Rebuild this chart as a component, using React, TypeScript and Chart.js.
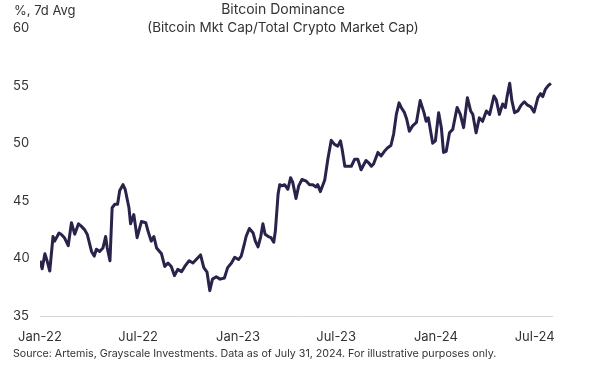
import React, { useEffect, useRef } from "react";
import { Chart, registerables } from "chart.js";

Chart.register(...registerables);

// ---- Data ----
const dates: string[] = [
  "2022-01-01","2022-01-05","2022-01-10","2022-01-14","2022-01-19","2022-01-25","2022-01-28",
  "2022-02-05","2022-02-09","2022-02-15","2022-02-22","2022-02-28",
  "2022-03-06","2022-03-13","2022-03-18","2022-03-24","2022-03-29",
  "2022-04-06","2022-04-11","2022-04-15","2022-04-21","2022-04-27",
  "2022-05-02","2022-05-05","2022-05-10","2022-05-14","2022-05-19","2022-05-24","2022-05-28",
  "2022-06-03","2022-06-07","2022-06-14","2022-06-17","2022-06-23","2022-06-29",
  "2022-07-07","2022-07-15","2022-07-19","2022-07-25","2022-07-30",
  "2022-08-04","2022-08-13","2022-08-19","2022-08-25","2022-08-31",
  "2022-09-06","2022-09-12","2022-09-19","2022-09-25",
  "2022-10-03","2022-10-10","2022-10-16","2022-10-24","2022-10-30",
  "2022-11-05","2022-11-10","2022-11-15","2022-11-22","2022-11-29",
  "2022-12-07","2022-12-13","2022-12-20","2022-12-26",
  "2023-01-02","2023-01-07","2023-01-12","2023-01-16","2023-01-22","2023-01-29",
  "2023-02-02","2023-02-07","2023-02-12","2023-02-16","2023-02-20","2023-02-26",
  "2023-03-03","2023-03-08","2023-03-11","2023-03-16","2023-03-19","2023-03-23","2023-03-28",
  "2023-04-03","2023-04-08","2023-04-12","2023-04-18","2023-04-23","2023-04-29",
  "2023-05-07","2023-05-13","2023-05-19","2023-05-25","2023-05-28",
  "2023-06-02","2023-06-10","2023-06-16","2023-06-22","2023-06-28",
  "2023-07-04","2023-07-09","2023-07-12","2023-07-17","2023-07-23","2023-07-29",
  "2023-08-04","2023-08-10","2023-08-16","2023-08-25","2023-08-30",
  "2023-09-04","2023-09-08","2023-09-16","2023-09-22","2023-09-28",
  "2023-10-04","2023-10-10","2023-10-15","2023-10-20","2023-10-25","2023-10-29",
  "2023-11-04","2023-11-08","2023-11-13","2023-11-19","2023-11-26",
  "2023-12-03","2023-12-10","2023-12-14","2023-12-18","2023-12-26","2023-12-31",
  "2024-01-06","2024-01-11","2024-01-15","2024-01-20","2024-01-26",
  "2024-02-01","2024-02-09","2024-02-15","2024-02-21","2024-02-28",
  "2024-03-05","2024-03-09","2024-03-15","2024-03-21","2024-03-27",
  "2024-04-03","2024-04-09","2024-04-17","2024-04-21","2024-04-27",
  "2024-05-03","2024-05-08","2024-05-11","2024-05-16","2024-05-20","2024-05-25","2024-05-31",
  "2024-06-06","2024-06-12","2024-06-18","2024-06-24","2024-06-30",
  "2024-07-07","2024-07-12","2024-07-16","2024-07-21","2024-07-26","2024-07-31",
];

const dominance: number[] = [
  39.8, 39.1, 40.4, 39.8, 38.9, 41.9, 41.5,
  42.2, 42.1, 41.8, 41.1, 43.1,
  42.1, 43.0, 42.8, 42.5, 42.1,
  40.6, 40.2, 40.8, 40.6, 40.9,
  41.9, 40.9, 39.8, 44.4, 44.7, 44.7, 45.9,
  46.4, 46.0, 44.4, 43.0, 43.8, 41.8,
  43.2, 43.1, 42.4, 41.5, 41.9,
  40.9, 40.4, 39.3, 39.6, 39.3,
  38.5, 39.05, 38.85, 39.3,
  39.8, 39.6, 39.9, 40.3, 39.2,
  38.8, 37.2, 38.2, 38.4, 38.2,
  38.3, 39.2, 39.6, 40.1,
  39.9, 40.2, 41.1, 41.9, 42.6, 42.2,
  41.5, 41.0, 41.9, 43.0, 42.1, 41.9,
  41.8, 41.4, 42.4, 45.6, 46.4, 46.3, 46.4,
  46.0, 47.0, 46.6, 45.2, 46.3, 46.85,
  46.7, 46.4, 46.4, 46.2, 46.4,
  45.8, 46.8, 48.7, 50.25, 49.9,
  49.75, 50.2, 49.5, 48.0, 48.0, 48.0,
  48.6, 48.6, 47.7, 48.5, 48.3,
  48.0, 48.2, 49.2, 48.9, 49.3,
  49.6, 49.8, 50.8, 52.5, 53.5, 53.1,
  52.65, 52.1, 51.05, 51.5, 51.8,
  53.7, 52.65, 51.9, 52.2, 50.0, 50.2,
  52.65, 51.35, 49.2, 49.3, 50.9,
  51.2, 53.1, 52.5, 51.35, 53.95,
  52.8, 52.5, 50.9, 52.2, 51.9,
  52.8, 52.5, 54.1, 53.8, 52.5,
  53.4, 53.1, 54.0, 55.2, 53.7, 52.65, 52.8,
  53.3, 53.6, 53.3, 53.15, 52.7,
  53.95, 54.3, 54.05, 54.7, 55.0, 55.2,
];

const xTickDates: string[] = ["2022-01-01", "2022-07-01", "2023-01-01", "2023-07-01", "2024-01-01", "2024-07-01"];
const xTickLabels: string[] = ["Jan-22", "Jul-22", "Jan-23", "Jul-23", "Jan-24", "Jul-24"];
const yTicks: number[] = [35, 40, 45, 50, 55, 60];
const axisStart = "2022-01-01";
const axisEnd = "2024-08-02";

const unitLabel = "%, 7d Avg";
const titleText = "Bitcoin Dominance";
const subtitleText = "(Bitcoin Mkt Cap/Total Crypto Market Cap)";
const sourceText = "Source: Artemis, Grayscale Investments. Data as of July 31, 2024. For illustrative purposes only.";

const toDay = (s: string): number => {
  const [y, m, d] = s.split("-").map(Number);
  return Date.UTC(y, m - 1, d) / 86400000;
};

const FONT = "Inter, 'Open Sans', sans-serif";
const TEXT = "#333333";

export default function App() {
  const canvasRef = useRef<HTMLCanvasElement | null>(null);

  useEffect(() => {
    document.body.style.margin = "0";
    const canvas = canvasRef.current;
    if (!canvas) return;
    const chart = new Chart(canvas, {
      type: "line",
      data: {
        datasets: [
          {
            data: dates.map((d, i) => ({ x: toDay(d), y: dominance[i] })),
            borderColor: "#28234a",
            borderWidth: 3,
            pointRadius: 0,
            tension: 0,
            fill: false,
            borderJoinStyle: "round",
          },
        ],
      },
      options: {
        animation: false,
        responsive: false,
        maintainAspectRatio: false,
        layout: { padding: { left: 13, right: 48, top: 28, bottom: 20 } },
        plugins: { legend: { display: false }, tooltip: { enabled: false }, title: { display: false } },
        scales: {
          x: {
            type: "linear",
            min: toDay(axisStart),
            max: toDay(axisEnd),
            grid: { display: false, drawTicks: false },
            border: { display: true, color: "#d6d6d6", width: 1 },
            afterBuildTicks: (s: any) => {
              s.ticks = xTickDates.map((d) => ({ value: toDay(d) }));
            },
            afterFit: (s: any) => {
              s.height = 30;
            },
            ticks: {
              autoSkip: false,
              maxRotation: 0,
              minRotation: 0,
              padding: 13,
              color: TEXT,
              font: { family: FONT, size: 13 },
              callback: (_v: any, i: number) => xTickLabels[i],
            },
          },
          y: {
            type: "linear",
            min: 35,
            max: 60,
            grid: { display: false, drawTicks: false },
            border: { display: false },
            afterBuildTicks: (s: any) => {
              s.ticks = yTicks.map((v) => ({ value: v }));
            },
            afterFit: (s: any) => {
              s.width = 27;
            },
            ticks: {
              crossAlign: "far",
              padding: 0,
              color: TEXT,
              font: { family: FONT, size: 13 },
            },
          },
        },
      },
    });
    return () => chart.destroy();
  }, []);

  const textBase: React.CSSProperties = {
    position: "absolute",
    fontFamily: FONT,
    color: TEXT,
    whiteSpace: "nowrap",
    lineHeight: "16px",
  };

  return (
    <div style={{ position: "relative", width: 600, height: 366, background: "#fff", overflow: "hidden" }}>
      <canvas ref={canvasRef} width={600} height={366} style={{ position: "absolute", left: 0, top: 0 }} />
      <div style={{ ...textBase, left: 14, top: 2, fontSize: 13 }}>{unitLabel}</div>
      <div style={{ ...textBase, left: 0, width: 566, top: 1, fontSize: 14, textAlign: "center" }}>{titleText}</div>
      <div style={{ ...textBase, left: 0, width: 566, top: 19, fontSize: 13.5, textAlign: "center" }}>{subtitleText}</div>
      <div style={{ ...textBase, left: 13, top: 346, fontSize: 10.7 }}>{sourceText}</div>
    </div>
  );
}
